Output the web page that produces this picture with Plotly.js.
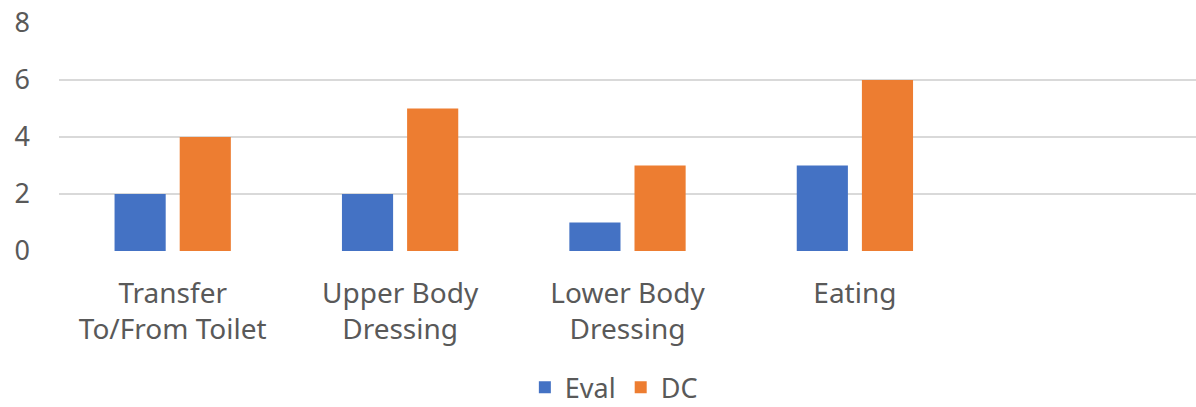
<!DOCTYPE html>
<html>
<head>
<meta charset="utf-8">
<script src="https://cdn.plot.ly/plotly-3.0.1.min.js"></script>
<style>html,body{margin:0;padding:0;background:#fff;}#chart{width:1196px;height:407px;}</style>
</head>
<body>
<div id="chart"></div>
<script>
var categories = ["Transfer<br>To/From Toilet", "Upper Body<br>Dressing", "Lower Body<br>Dressing", "Eating"];
var evalValues = [2, 2, 1, 3];
var dcValues = [4, 5, 3, 6];
var yTicks = [0, 2, 4, 6, 8];

var font = "Noto Sans, Open Sans, sans-serif";
var data = [
  {type: "bar", name: "Eval", x: categories, y: evalValues, marker: {color: "#4472C4"}},
  {type: "bar", name: "DC", x: categories, y: dcValues, marker: {color: "#ED7D31"}}
];
var layout = {
  width: 1196, height: 407,
  margin: {l: 59, r: 0, t: 23, b: 156, autoexpand: false},
  paper_bgcolor: "#fff", plot_bgcolor: "#fff",
  barmode: "group", bargap: 0.427, bargroupgap: 0.215,
  font: {family: font, size: 26, color: "#595959"},
  xaxis: {type: "category", range: [-0.5, 4.5], showgrid: false, zeroline: false, showline: false, automargin: false,
          ticks: "", ticklabelstandoff: 23, tickfont: {size: 28, color: "#595959"}},
  yaxis: {range: [0, 8], tickvals: yTicks, showgrid: true, gridcolor: "#D9D9D9", gridwidth: 2, automargin: false,
          zeroline: false, showline: false, ticks: "", ticklabelstandoff: 28, tickfont: {size: 27, color: "#595959"}},
  showlegend: true,
  legend: {orientation: "h", x: 0.488, xanchor: "center", y: -0.6, yanchor: "middle",
           font: {size: 27, color: "#595959"}, itemwidth: 30, traceorder: "normal"}
};
Plotly.newPlot("chart", data, layout, {staticPlot: true});
</script>
</body>
</html>
